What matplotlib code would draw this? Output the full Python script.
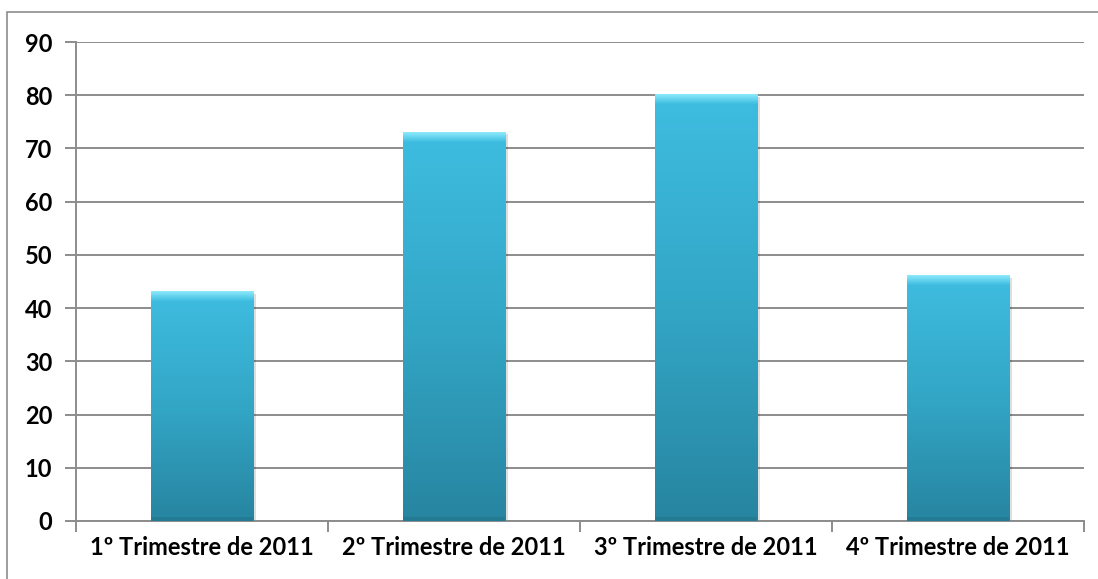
import numpy as np
import matplotlib
matplotlib.use("Agg")
import matplotlib.pyplot as plt
from matplotlib.colors import LinearSegmentedColormap
from matplotlib.patches import Rectangle

categories = ["1º Trimestre de 2011", "2º Trimestre de 2011",
              "3º Trimestre de 2011", "4º Trimestre de 2011"]
values = [43, 73, 80, 46]
yticks = list(range(0, 100, 10))

plt.rcParams['font.family'] = ['Lato', 'DejaVu Sans']

fig = plt.figure(figsize=(10.98, 5.79), dpi=100)
ax = fig.add_axes([76 / 1098, 1 - 521 / 579, (1084 - 76) / 1098, (521 - 42) / 579])

# outer chart frame (only left and top are visible)
fig.patches.append(Rectangle((7 / 1098, -0.1), 1.2, 1 - 12 / 579 + 0.1,
                             transform=fig.transFigure, fill=False,
                             edgecolor="#8c8c8c", linewidth=1.2, zorder=0))

x = np.arange(len(categories))
width = 0.405
cmap = LinearSegmentedColormap.from_list("bar", ["#2785a0", "#33a6c6", "#3ebde0"])
grad = np.linspace(0, 1, 256).reshape(-1, 1)
bevel = LinearSegmentedColormap.from_list("bev", ["#3ebde0", "#8eeafc"])

for xi, v in zip(x, values):
    # soft shadow
    ax.add_patch(Rectangle((xi - width / 2 + 0.01, -0.3), width, v,
                           facecolor="#000000", alpha=0.13, linewidth=0, zorder=2))
    bar = ax.bar(xi, v, width, color="none", zorder=3)[0]
    im = ax.imshow(grad, cmap=cmap, aspect="auto", origin="lower",
                   extent=[xi - width / 2, xi + width / 2, 0, v], zorder=3)
    im.set_clip_path(bar)
    # bevel on top
    ax.imshow(grad, cmap=bevel, aspect="auto", origin="lower",
              extent=[xi - width / 2, xi + width / 2, v - 1.7, v], zorder=4)
    # bevel on bottom
    ax.add_patch(Rectangle((xi - width / 2, 0), width, 0.8,
                           facecolor="#237a93", linewidth=0, zorder=4))

ax.set_xlim(-0.5, len(categories) - 0.5)
ax.set_ylim(0, 90)
ax.set_yticks(yticks)
ax.set_yticklabels([str(t) for t in yticks], fontsize=17, fontweight="bold")
ax.set_xticks(x)
ax.set_xticklabels(categories, fontsize=17, fontweight="bold")
ax.set_xticks(np.arange(len(categories) + 1) - 0.5, minor=True)

ax.grid(axis="y", color="#8c8c8c", linewidth=1.4, zorder=1)
ax.set_axisbelow(True)
for s in ["top", "right"]:
    ax.spines[s].set_visible(False)
for s in ["left", "bottom"]:
    ax.spines[s].set_color("#8c8c8c")
    ax.spines[s].set_linewidth(1.4)

ax.tick_params(axis="y", direction="out", length=8, width=1.4, color="#8c8c8c", pad=9)
ax.tick_params(axis="x", which="major", length=0, pad=11)
ax.tick_params(axis="x", which="minor", direction="out", length=8, width=1.4, color="#8c8c8c")

fig.savefig("out.png", dpi=100)
